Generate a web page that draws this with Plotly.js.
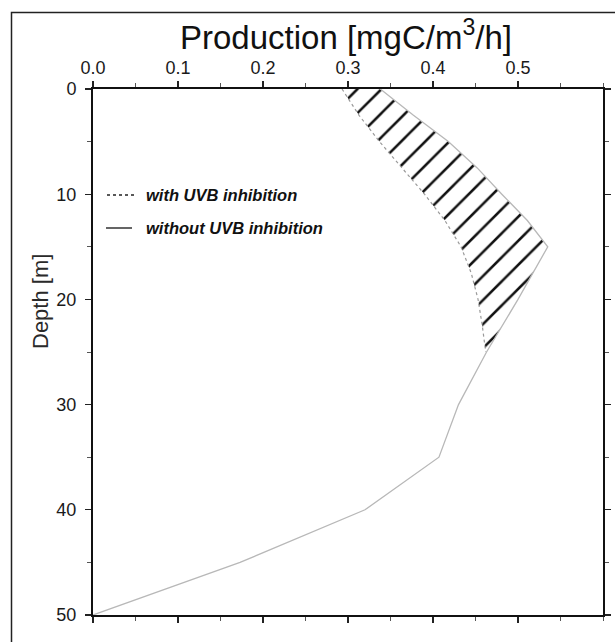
<!DOCTYPE html>
<html>
<head>
<meta charset="utf-8">
<script src="https://cdn.plot.ly/plotly-3.0.1.min.js"></script>
<style>
html,body{margin:0;padding:0;background:#fff;}
#chart{width:615px;height:642px;}
</style>
</head>
<body>
<div id="chart"></div>
<script>
// Depth [m] (vertical axis, increasing downward)
const depthWith = [0, 2.5, 5, 7.5, 10, 12.5, 15, 17.5, 20, 22.5, 25];
// Production with UVB inhibition [mgC/m3/h]
const prodWith = [0.293, 0.313, 0.337, 0.363, 0.390, 0.414, 0.433, 0.445, 0.453, 0.458, 0.462];

const depthWithout = [0, 2.5, 5, 7.5, 10, 12.5, 15, 20, 25, 30, 35, 40, 45, 50];
// Production without UVB inhibition [mgC/m3/h]
const prodWithout = [0.338, 0.377, 0.418, 0.452, 0.481, 0.511, 0.535, 0.500, 0.463, 0.430, 0.407, 0.320, 0.173, 0.0];

const xTickVals = [0, 0.1, 0.2, 0.3, 0.4, 0.5];
const xTickText = ['0.0', '0.1', '0.2', '0.3', '0.4', '0.5'];
const yTickVals = [0, 10, 20, 30, 40, 50];

const legendLabels = ['with UVB inhibition', 'without UVB inhibition'];

// upper part of the "without" profile (down to where both profiles meet) for the hatched area
const mergeDepth = depthWith[depthWith.length - 1];
const upperIdx = depthWithout.map((d, i) => i).filter(i => depthWithout[i] <= mergeDepth);
const depthUpper = upperIdx.map(i => depthWithout[i]);
const prodUpper = upperIdx.map(i => prodWithout[i]);

const FONT = 'Liberation Sans, Arial, Helvetica, sans-serif';

const traces = [
  {
    x: prodWith, y: depthWith, type: 'scatter', mode: 'lines',
    line: {color: '#9a9a9a', width: 1.2, dash: 'dot'},
    hoverinfo: 'skip', showlegend: false
  },
  {
    x: prodUpper, y: depthUpper, type: 'scatter', mode: 'lines',
    line: {color: 'rgba(0,0,0,0)', width: 0},
    fill: 'tonextx',
    fillcolor: 'rgba(0,0,0,0)',
    fillpattern: {shape: '/', size: 17, solidity: 0.15, fgcolor: '#111', bgcolor: 'rgba(0,0,0,0)', fgopacity: 1},
    hoverinfo: 'skip', showlegend: false
  },
  {
    x: prodWithout, y: depthWithout, type: 'scatter', mode: 'lines',
    line: {color: '#b8b8b8', width: 1.3},
    hoverinfo: 'skip', showlegend: false
  }
];

// plot area geometry in pixels (for placing layout decorations)
const W = 615, H = 642, ML = 93, MR = 12, MT = 89, MB = 27;
const PW = W - ML - MR, PH = H - MT - MB;
const px = v => (v - ML) / PW;
const py = v => (H - MB - v) / PH;

const layout = {
  width: W, height: H,
  margin: {l: ML, r: MR, t: MT, b: MB, pad: 0},
  paper_bgcolor: '#fff', plot_bgcolor: '#fff',
  showlegend: false,
  font: {family: FONT, color: '#111'},
  xaxis: {
    range: [0, 0.6], side: 'top',
    tickvals: xTickVals, ticktext: xTickText,
    ticks: 'outside', ticklen: 6, tickwidth: 1.2, tickcolor: '#222',
    minor: {dtick: 0.05, tick0: 0, ticks: 'outside', ticklen: 4, tickwidth: 1, tickcolor: '#555', showgrid: false},
    showline: true, linewidth: 2, linecolor: '#111', mirror: 'ticks',
    showgrid: false, zeroline: false,
    tickfont: {family: FONT, size: 18, color: '#1a1a1a'},
    ticklabelstandoff: 0,
    fixedrange: true
  },
  yaxis: {
    range: [50, 0],
    tickvals: yTickVals,
    ticks: 'outside', ticklen: 6, tickwidth: 1.2, tickcolor: '#222',
    minor: {dtick: 5, tick0: 0, ticks: 'outside', ticklen: 4, tickwidth: 1, tickcolor: '#555', showgrid: false},
    showline: true, linewidth: 2, linecolor: '#111', mirror: 'ticks',
    showgrid: false, zeroline: false,
    tickfont: {family: FONT, size: 18, color: '#1a1a1a'},
    ticklabelstandoff: 5,
    fixedrange: true
  },
  shapes: [
    // outer frame (continues past the right and bottom edges of the picture)
    {type: 'rect', xref: 'paper', yref: 'paper',
     x0: px(11.5), x1: px(640), y0: py(670), y1: py(12.5),
     line: {color: '#222', width: 1.5}, fillcolor: 'rgba(0,0,0,0)', layer: 'below'},
    // legend symbols
    {type: 'line', xref: 'paper', yref: 'paper', x0: px(107), x1: px(134), y0: py(195), y1: py(195),
     line: {color: '#222', width: 1.6, dash: 'dot'}},
    {type: 'line', xref: 'paper', yref: 'paper', x0: px(106), x1: px(132), y0: py(228), y1: py(228),
     line: {color: '#111', width: 1.3}}
  ],
  annotations: [
    {text: 'Production [mgC/m<sup>3</sup>/h]', xref: 'paper', yref: 'paper',
     x: px(346), y: py(35), xanchor: 'center', yanchor: 'middle', showarrow: false,
     font: {family: FONT, size: 33, color: '#111'}},
    {text: 'Depth [m]', xref: 'paper', yref: 'paper', textangle: -90,
     x: px(40), y: py(302), xanchor: 'center', yanchor: 'middle', showarrow: false,
     font: {family: FONT, size: 22, color: '#2a2a2a'}},
    {text: '<b><i>' + legendLabels[0] + '</i></b>', xref: 'paper', yref: 'paper',
     x: px(144), y: py(195), xanchor: 'left', yanchor: 'middle', showarrow: false,
     font: {family: FONT, size: 16.5, color: '#111'}},
    {text: '<b><i>' + legendLabels[1] + '</i></b>', xref: 'paper', yref: 'paper',
     x: px(144), y: py(228), xanchor: 'left', yanchor: 'middle', showarrow: false,
     font: {family: FONT, size: 16.5, color: '#111'}}
  ]
};

Plotly.newPlot('chart', traces, layout, {displayModeBar: false, staticPlot: true});
</script>
</body>
</html>
